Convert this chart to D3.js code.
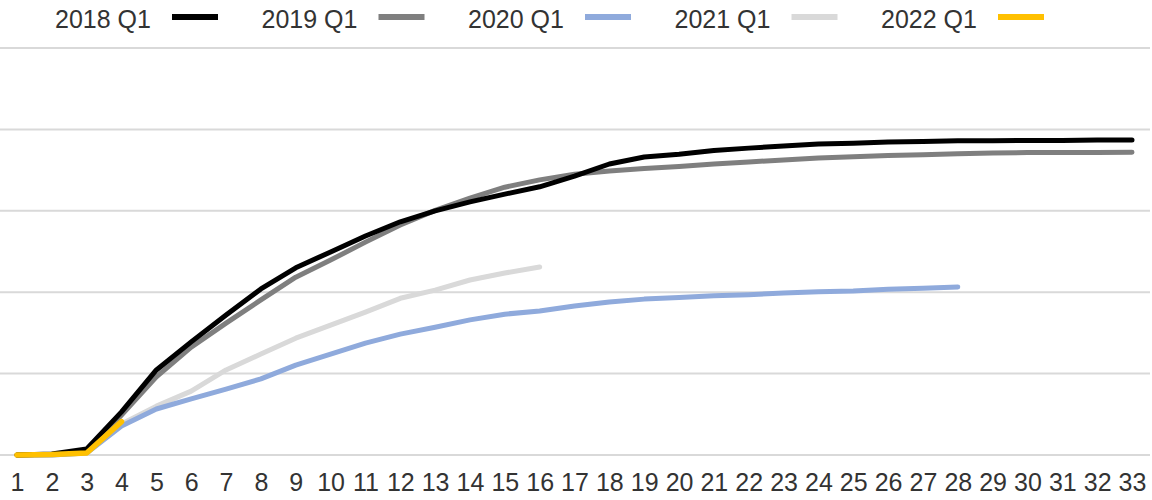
<!DOCTYPE html>
<html>
<head>
<meta charset="utf-8">
<script src="https://cdn.jsdelivr.net/npm/d3@7"></script>
<style>
  html, body { margin: 0; padding: 0; background: #fff; }
  svg { display: block; font-family: "Liberation Sans", Arial, sans-serif; }
</style>
</head>
<body>
<div id="chart"></div>
<script>
const width = 1152;
const height = 500;

// x categories (weeks / periods)
const periods = d3.range(1, 34);

// series values (y axis unlabelled, gridlines every 20)
const q2018 = [0, 0.25, 1.5, 10.6, 20.9, 27.8, 34.4, 40.8, 46.0, 49.9, 53.8, 57.3, 60.0, 62.2, 64.1, 65.9,
  68.5, 71.5, 73.2, 73.9, 74.8, 75.4, 75.9, 76.4, 76.6, 76.9, 77.0, 77.2, 77.2, 77.3, 77.3, 77.4, 77.4];
const q2019 = [0, 0.1, 0.7, 9.8, 19.2, 26.5, 32.4, 38.1, 43.7, 47.9, 52.3, 56.5, 60.1, 63.1, 65.8, 67.6,
  69.0, 69.8, 70.4, 70.9, 71.5, 72.0, 72.5, 73.0, 73.3, 73.6, 73.8, 74.0, 74.2, 74.3, 74.3, 74.3, 74.4];
const q2020 = [0, 0, 0.5, 7.1, 11.3, 13.8, 16.2, 18.7, 22.1, 24.8, 27.5, 29.7, 31.4, 33.2, 34.6, 35.4,
  36.6, 37.6, 38.3, 38.7, 39.1, 39.4, 39.8, 40.1, 40.3, 40.7, 41.0, 41.3];
const q2021 = [0, 0, 0.5, 7.6, 12.0, 15.7, 20.9, 24.8, 28.7, 31.9, 35.1, 38.5, 40.5, 43.0, 44.7, 46.2];
const q2022 = [0, 0.1, 0.5, 8.2];

const seriesNames = ["2018 Q1", "2019 Q1", "2020 Q1", "2021 Q1", "2022 Q1"];
const seriesValues = [q2018, q2019, q2020, q2021, q2022];
const seriesColors = ["#000000", "#7f7f7f", "#8faadc", "#d9d9d9", "#ffc000"];
const gridTicks = [0, 20, 40, 60, 80, 100];

const x = d3.scaleLinear().domain([1, 33]).range([17, 1132]);
const y = d3.scaleLinear().domain([0, 100]).range([455, 48]);

const svg = d3.select("#chart").append("svg")
    .attr("width", width)
    .attr("height", height);

// gridlines
svg.append("g")
    .selectAll("line")
    .data(gridTicks)
    .join("line")
    .attr("x1", 0)
    .attr("x2", 1150)
    .attr("y1", d => y(d))
    .attr("y2", d => y(d))
    .attr("stroke", "#d9d9d9")
    .attr("stroke-width", 2);

// x axis labels
const xAxis = svg.append("g")
    .attr("transform", `translate(0,${y(0)})`)
    .call(d3.axisBottom(x).tickValues(periods).tickFormat(d3.format("d")).tickSize(0).tickPadding(18));
xAxis.select(".domain").remove();
xAxis.selectAll("text")
    .attr("font-size", 25)
    .attr("font-family", "Liberation Sans, Arial, sans-serif")
    .attr("fill", "#333");

// lines (drawn light to dark so the older ones sit on top like the reference)
const line = d3.line()
    .x((d, i) => x(periods[i]))
    .y(d => y(d));

const order = [3, 2, 1, 0, 4];
svg.append("g")
    .attr("fill", "none")
    .attr("stroke-linecap", "round")
    .attr("stroke-linejoin", "round")
    .selectAll("path")
    .data(order)
    .join("path")
    .attr("d", i => line(seriesValues[i]))
    .attr("stroke", i => seriesColors[i])
    .attr("stroke-width", i => i === 4 ? 5.5 : 5);

// legend
const legend = svg.append("g")
    .selectAll("g")
    .data(seriesNames)
    .join("g")
    .attr("transform", (d, i) => `translate(${55 + i * 206.5},0)`);

legend.append("text")
    .attr("x", 0)
    .attr("y", 28)
    .attr("font-size", 25)
    .attr("fill", "#333")
    .text(d => d);

legend.append("line")
    .attr("x1", 117)
    .attr("x2", 163)
    .attr("y1", 17)
    .attr("y2", 17)
    .attr("stroke", (d, i) => seriesColors[i])
    .attr("stroke-width", 6);
</script>
</body>
</html>
